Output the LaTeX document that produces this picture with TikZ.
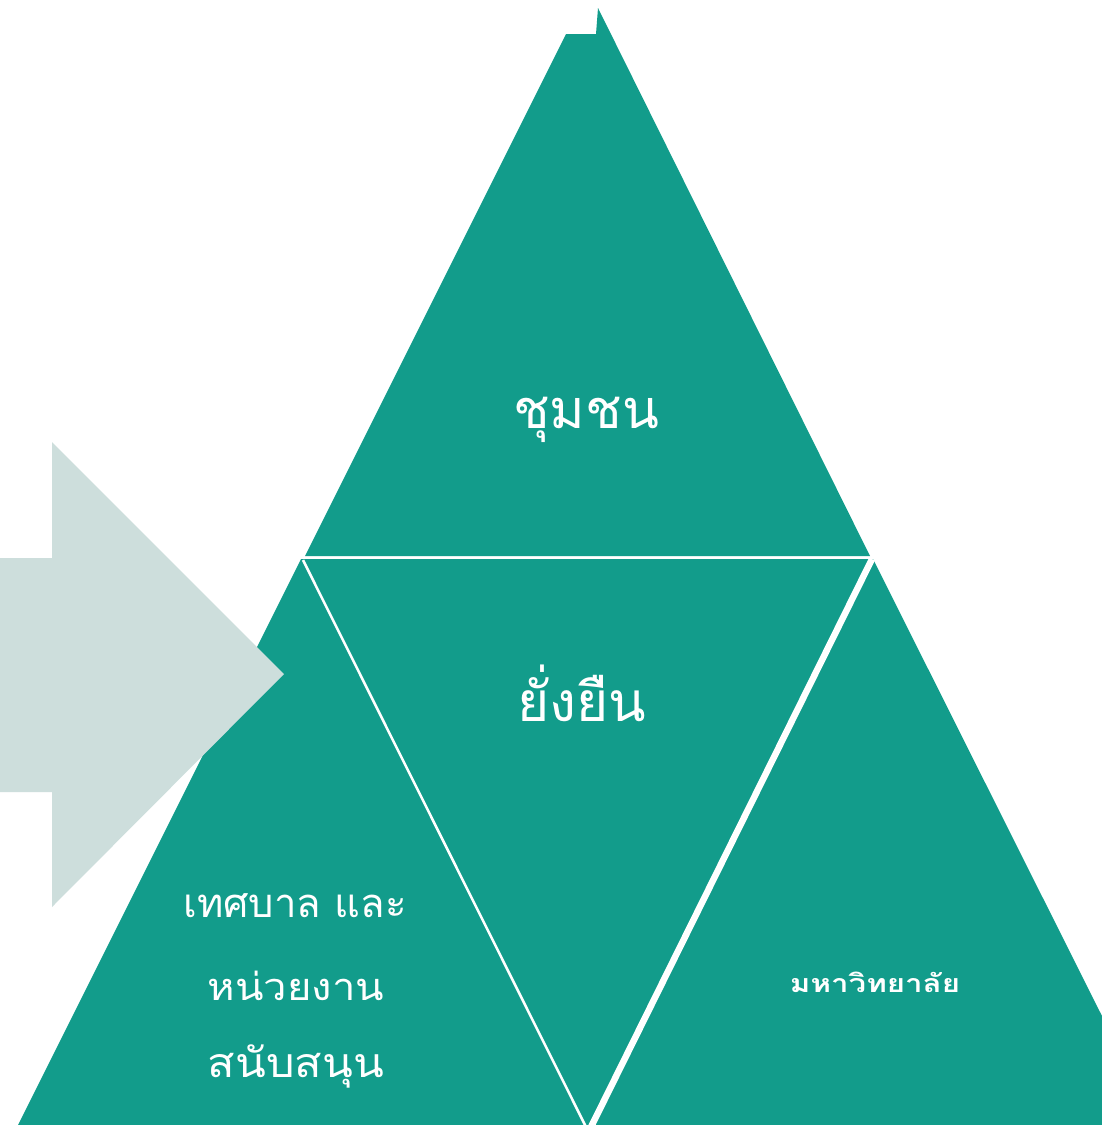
\documentclass[tikz,border=0pt]{standalone}
\usepackage{fontspec}
\newfontfamily\thaifont[Script=Thai]{Loma}
\newfontfamily\thaiwide[Script=Thai,FakeStretch=1.25]{Loma}
\newfontfamily\thaimid[Script=Thai,FakeStretch=1.1]{Loma}
\definecolor{teal1}{RGB}{18,156,139}
\definecolor{arrowgrey}{RGB}{205,222,220}
\tikzset{
  piece/.style={fill=teal1, draw=none},
  gap/.style={draw=white},
  lbl/.style={text=white, font=\thaifont, inner sep=0pt, anchor=center},
}
\begin{document}
\begin{tikzpicture}[x=1pt,y=-1pt]
\useasboundingbox (0,0) rectangle (1102,1125);
\fill[white] (0,0) rectangle (1102,1125);
% top triangle
\fill[piece] (305,556) -- (566,34) -- (596,34) -- (598,8) -- (870,556) -- cycle;
% lower band
\fill[piece] (301,559) -- (873,559) -- (1102,1016) -- (1102,1125) -- (18,1125) -- cycle;
% dividing white lines
\draw[gap, line width=2.5pt] (303,560) -- (586,1127);
\draw[gap, line width=6.5pt] (872,559) -- (591,1127);
% arrow
\fill[arrowgrey] (0,558) -- (52,558) -- (52,442) -- (284,674) -- (52,907) -- (52,792) -- (0,792) -- cycle;
% labels
\node[lbl, font=\thaifont\fontsize{54}{64}\selectfont] (top) at (586,420) {ชุมชน};
\node[lbl, font=\thaifont\fontsize{55}{64}\selectfont] (mid) at (582,693) {ยั่งยืน};
\node[lbl, font=\thaifont\fontsize{40}{48}\selectfont] (l1) at (295,906) {เทศบาล และ};
\node[lbl, font=\thaimid\fontsize{38}{46}\selectfont] (l2) at (296,986) {หน่วยงาน};
\node[lbl, font=\thaimid\fontsize{41}{48}\selectfont] (l3) at (296,1066) {สนับสนุน};
\node[lbl, font=\thaiwide\bfseries\fontsize{25}{30}\selectfont] (r1) at (875,982) {มหาวิทยาลัย};
\end{tikzpicture}
\end{document}
